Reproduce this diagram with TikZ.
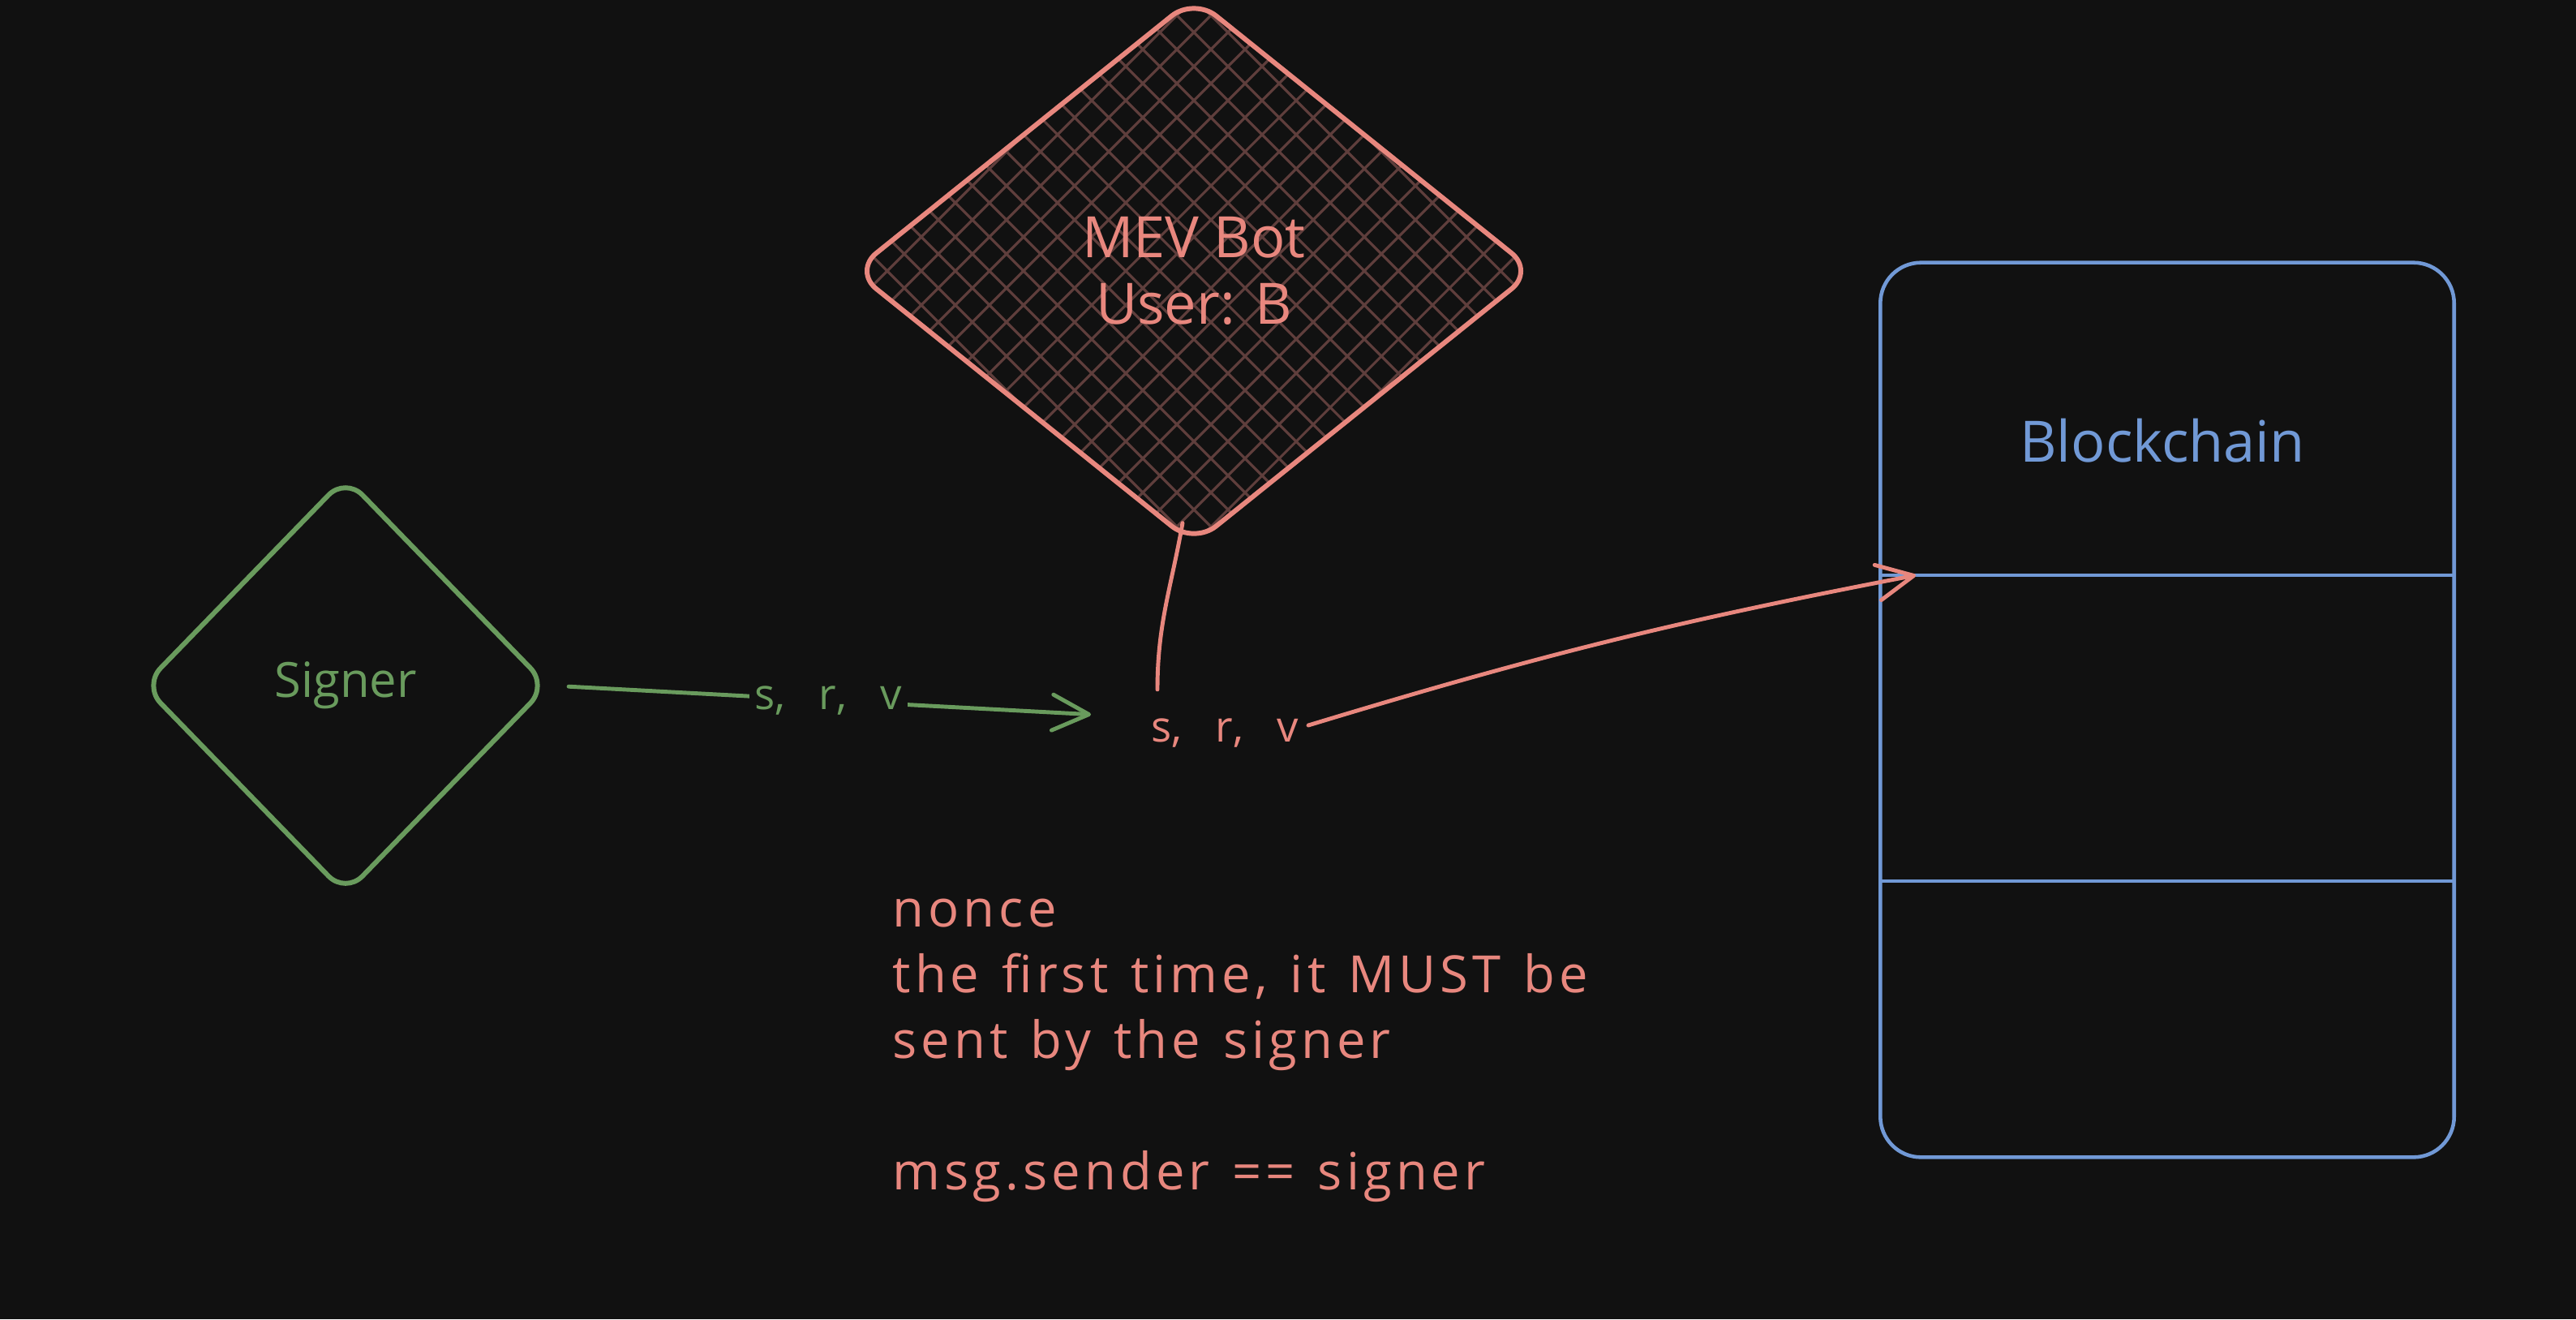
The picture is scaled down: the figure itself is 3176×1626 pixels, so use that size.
\documentclass[tikz,border=0pt]{standalone}
\usepackage{fontspec}
\setmainfont{Open Sans}
\newfontfamily\sigfont[WordSpace=3]{Open Sans}
\newfontfamily\notefont[LetterSpace=8,WordSpace=1.3]{Open Sans}
\usetikzlibrary{shapes.geometric,arrows.meta}
\definecolor{bg}{HTML}{111111}
\definecolor{sgreen}{HTML}{699B5D}
\definecolor{mpink}{HTML}{E8877E}
\definecolor{cblue}{HTML}{7199D6}
\definecolor{hatchc}{HTML}{5F3E3C}
\begin{document}
\begin{tikzpicture}[x=0.01cm,y=-0.01cm,
    tip/.style={-{Straight Barb[length=0.45cm,width=0.44cm,round]}},
    wire/.style={line width=1.4pt,line cap=round},
    shape box/.style={diamond,line width=1.7pt,inner sep=0pt,align=center},
    sigtext/.style={font=\sigfont\fontsize{15}{18}\selectfont}]
    \useasboundingbox (0,0) rectangle (3176,1626);
    \fill[bg] (0,0) rectangle (3176,1626);

    \node[shape box,draw=mpink,text=mpink,rounded corners=0.35cm,
        minimum width=8.4cm,minimum height=6.75cm,
        font=\fontsize{20}{23.5}\selectfont,
        path picture={\foreach \k in {-22,...,22} {
            \draw[hatchc,line width=0.9pt] ([xshift=\k*0.42cm]path picture bounding box.center) ++(-5cm,-5cm) -- ++(10cm,10cm);
            \draw[hatchc,line width=0.9pt] ([xshift=\k*0.42cm]path picture bounding box.center) ++(-5cm,5cm) -- ++(10cm,-10cm);}}]
        (mev) at (1472,334) {MEV Bot\\User: B};
    \node[shape box,draw=sgreen,text=sgreen,rounded corners=0.3cm,
        minimum width=5.0cm,minimum height=5.15cm,
        font=\fontsize{17}{20}\selectfont] (sgn) at (426,845) {Signer};
    \node[sigtext,text=mpink] (sig) at (1510,904) {s, r, v};

    \node[draw=cblue,line width=1.3pt,rounded corners=0.5cm,
        minimum width=7.07cm,minimum height=11.02cm] (blk) at (2672,875) {};
    \node[text=cblue,font=\fontsize{20}{24}\selectfont] (bc) at (2666,543) {Blockchain};
    \coordinate (hit) at (2362,709);
    \coordinate (cut) at (2319,1086);
    \draw[cblue,line width=1.3pt] (blk.west |- hit) -- (blk.east |- hit);
    \draw[cblue,line width=1.3pt] (blk.west |- cut) -- (blk.east |- cut);

    \draw[sgreen,wire,tip,shorten <=0.22cm,shorten >=0.62cm] (sgn.east) --
        node[pos=.47,sigtext,fill=bg,text=sgreen,inner sep=2pt] (lbl) {s, r, v}
        ([yshift=0.2cm]sig.west);
    \draw[mpink,wire] ([xshift=-0.14cm,yshift=0.3cm]mev.south) to[out=-100,in=90] ([xshift=0.2cm,yshift=0.24cm]sig.north west);
    \draw[mpink,wire,tip] ([yshift=0.1cm]sig.east) to[bend left=3] (hit);

    \node[anchor=base west,text=mpink,align=left,inner sep=0pt,
        font=\notefont\fontsize{18}{23}\selectfont] (note) at (1100,1466)
        {nonce\\the first time, it MUST be\\sent by the signer\\[23pt]msg.sender == signer};
\end{tikzpicture}
\end{document}
